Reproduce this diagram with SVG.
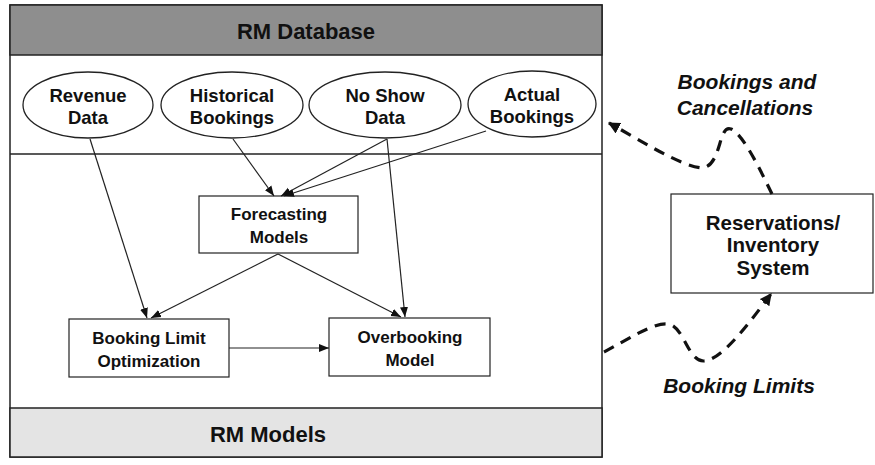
<svg xmlns="http://www.w3.org/2000/svg" width="875" height="465" viewBox="0 0 875 465">
<style>
.t{font-family:"Liberation Sans",Arial,sans-serif;font-weight:bold;fill:#111;text-anchor:middle}
.n{font-size:17px}
.e{font-size:18.5px}
.r{font-size:20.5px}
.h{font-size:22px}
.i{font-size:21px;font-style:italic}
.box{fill:#fff;stroke:#222;stroke-width:1.2}
.ell{fill:#fff;stroke:#222;stroke-width:1.3}
.c{stroke:#222;stroke-width:1.2;fill:none}
.d{stroke:#111;stroke-width:3.2;fill:none;stroke-dasharray:11 8}
</style>
<defs>
<marker id="a" viewBox="0 0 10 10" refX="10" refY="5" markerWidth="10" markerHeight="10" markerUnits="userSpaceOnUse" orient="auto">
<path d="M0,1 L10,5 L0,9 Z" fill="#111"/>
</marker>
<marker id="b" viewBox="0 0 10 10" refX="9" refY="5" markerWidth="12" markerHeight="12" markerUnits="userSpaceOnUse" orient="auto">
<path d="M0,0 L10,5 L0,10 Z" fill="#111"/>
</marker>
</defs>
<rect width="875" height="465" fill="#fff"/>
<g id="frame">
<rect x="10" y="5" width="592" height="452" fill="#fff" stroke="#222" stroke-width="1.5"/>
<rect x="10" y="5" width="592" height="50" fill="#8e8e8e" stroke="#222" stroke-width="1.5"/>
<rect x="10" y="408" width="592" height="49" fill="#e4e4e4" stroke="#222" stroke-width="1.5"/>
<line x1="10" y1="154" x2="602" y2="154" stroke="#222" stroke-width="1.5"/>
<text class="t h" x="306" y="39">RM Database</text>
<text class="t h" x="268" y="442">RM Models</text>
</g>
<g id="revenue"><ellipse class="ell" cx="88" cy="105" rx="65" ry="33"/><text class="t e" x="88" y="102">Revenue</text><text class="t e" x="88" y="124">Data</text></g>
<g id="historical"><ellipse class="ell" cx="232" cy="105" rx="71" ry="33"/><text class="t e" x="232" y="102">Historical</text><text class="t e" x="232" y="124">Bookings</text></g>
<g id="noshow"><ellipse class="ell" cx="385" cy="105" rx="76" ry="33"/><text class="t e" x="385" y="102">No Show</text><text class="t e" x="385" y="124">Data</text></g>
<g id="actual"><ellipse class="ell" cx="532" cy="104" rx="64" ry="33"/><text class="t e" x="532" y="101">Actual</text><text class="t e" x="532" y="123">Bookings</text></g>
<g id="forecasting"><rect class="box" x="199" y="196" width="159" height="57"/><text class="t n" x="279" y="220">Forecasting</text><text class="t n" x="279" y="243">Models</text></g>
<g id="bookinglimit"><rect class="box" x="69" y="319" width="160" height="58"/><text class="t n" x="149" y="344">Booking Limit</text><text class="t n" x="149" y="367">Optimization</text></g>
<g id="overbooking"><rect class="box" x="329" y="318" width="161" height="58"/><text class="t n" x="410" y="343">Overbooking</text><text class="t n" x="410" y="366">Model</text></g>
<g id="reservations"><rect class="box" x="671" y="194" width="202" height="99"/><text class="t r" x="773" y="230">Reservations/</text><text class="t r" x="773" y="252">Inventory</text><text class="t r" x="773" y="275">System</text></g>
<g id="labels">
<text class="t i" x="747" y="89">Bookings and</text>
<text class="t i" x="745" y="115">Cancellations</text>
<text class="t i" x="739" y="393">Booking Limits</text>
</g>
<g id="connectors">
<line class="c" x1="90" y1="139" x2="147" y2="318" marker-end="url(#a)"/>
<line class="c" x1="233" y1="139" x2="274" y2="196" marker-end="url(#a)"/>
<line class="c" x1="387" y1="139" x2="281" y2="196" marker-end="url(#a)"/>
<line class="c" x1="387" y1="139" x2="405" y2="317" marker-end="url(#a)"/>
<line class="c" x1="486" y1="131" x2="284" y2="196" marker-end="url(#a)"/>
<line class="c" x1="278" y1="254" x2="151" y2="318" marker-end="url(#a)"/>
<line class="c" x1="278" y1="254" x2="401" y2="317" marker-end="url(#a)"/>
<line class="c" x1="229" y1="348" x2="329" y2="348" marker-end="url(#a)"/>
<path class="d" d="M772,194 C764,178 744,134 731,129 C718,124 722,166 702,168 C680,166 640,140 609,123" marker-end="url(#b)"/>
<path class="d" d="M604,352 C630,338 655,322 668,324 C684,326 688,362 704,361 C722,360 750,322 771,294" marker-end="url(#b)"/>
</g>
</svg>
